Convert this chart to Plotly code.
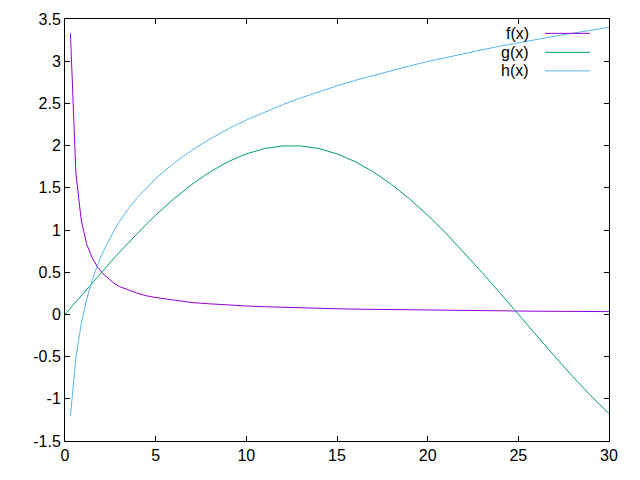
import plotly.graph_objects as go

# sample positions along x
x = [0, 0.3, 0.6, 0.9, 1.2, 1.5, 1.8, 2.1, 2.4, 2.7, 3, 3.5, 4, 4.5, 5,
     6, 7, 8, 9, 10, 11, 12, 13, 14, 15, 16, 17, 18, 19, 20,
     21, 22, 23, 24, 25, 26, 27, 28, 29, 30]

# f(x): purple, steep decay from the left edge
f_vals = [None, 3.33, 1.67, 1.11, 0.83, 0.67, 0.56, 0.48, 0.42, 0.37, 0.33, 0.29, 0.25, 0.22, 0.2,
          0.17, 0.14, 0.125, 0.11, 0.1, 0.091, 0.083, 0.077, 0.071, 0.067, 0.0625, 0.059, 0.056, 0.053, 0.05,
          0.048, 0.045, 0.043, 0.042, 0.04, 0.038, 0.037, 0.036, 0.034, 0.033]

# g(x): green hump, peak near 12.5, crosses zero at 25
g_vals = [0, 0.075, 0.151, 0.226, 0.300, 0.375, 0.449, 0.522, 0.594, 0.666, 0.736, 0.852, 0.964, 1.072, 1.176,
          1.369, 1.541, 1.689, 1.810, 1.902, 1.965, 1.996, 1.996, 1.965, 1.902, 1.810, 1.689, 1.541, 1.369, 1.176,
          0.964, 0.736, 0.497, 0.251, 0, -0.251, -0.497, -0.736, -0.964, -1.176]

# h(x): light blue, rising curve
h_vals = [None, -1.204, -0.511, -0.105, 0.182, 0.405, 0.588, 0.742, 0.875, 0.993, 1.099, 1.253, 1.386, 1.504, 1.609,
          1.792, 1.946, 2.079, 2.197, 2.303, 2.398, 2.485, 2.565, 2.639, 2.708, 2.773, 2.833, 2.890, 2.944, 2.996,
          3.045, 3.091, 3.135, 3.178, 3.219, 3.258, 3.296, 3.332, 3.367, 3.401]

series = [("f(x)", f_vals, "#9400D3"), ("g(x)", g_vals, "#009E73"), ("h(x)", h_vals, "#56B4E9")]

x_ticks = [0, 5, 10, 15, 20, 25, 30]
y_ticks = [-1.5, -1, -0.5, 0, 0.5, 1, 1.5, 2, 2.5, 3, 3.5]

font_family = "Liberation Sans, Arial, sans-serif"

fig = go.Figure()
for name, vals, color in series:
    fig.add_trace(go.Scatter(x=x, y=vals, mode="lines", name=name,
                             line=dict(color=color, width=1), connectgaps=False))

# gnuplot-style key: label on the left, line sample on the right
key_rows = [0.966, 0.921, 0.877]
for (name, vals, color), ky in zip(series, key_rows):
    fig.add_annotation(text=name, xref="paper", yref="paper", x=0.857, y=ky,
                       xanchor="right", yanchor="middle", showarrow=False,
                       font=dict(size=16, color="black", family=font_family))
    fig.add_shape(type="line", xref="paper", yref="paper", x0=0.882, x1=0.965, y0=ky, y1=ky,
                  line=dict(color=color, width=1))

axis_common = dict(showgrid=False, zeroline=False, showline=True, linecolor="black", linewidth=1,
                   mirror="ticks", ticks="inside", ticklen=5, tickcolor="black", automargin=False,
                   tickfont=dict(size=16, color="black", family=font_family))

fig.update_xaxes(range=[0, 30], tickvals=x_ticks, ticktext=[str(v) for v in x_ticks], **axis_common)
fig.update_yaxes(range=[-1.5, 3.5], tickvals=y_ticks, ticktext=[f"{v:g}" for v in y_ticks], **axis_common)

# page body adds ~8px offset, so margins are shifted to land the frame where gnuplot put it
fig.update_layout(
    width=640, height=480,
    margin=dict(l=57, r=39, t=11, b=47),
    plot_bgcolor="white", paper_bgcolor="white",
    showlegend=False,
    font=dict(family=font_family, color="black"),
)

fig.write_html("out.html")
